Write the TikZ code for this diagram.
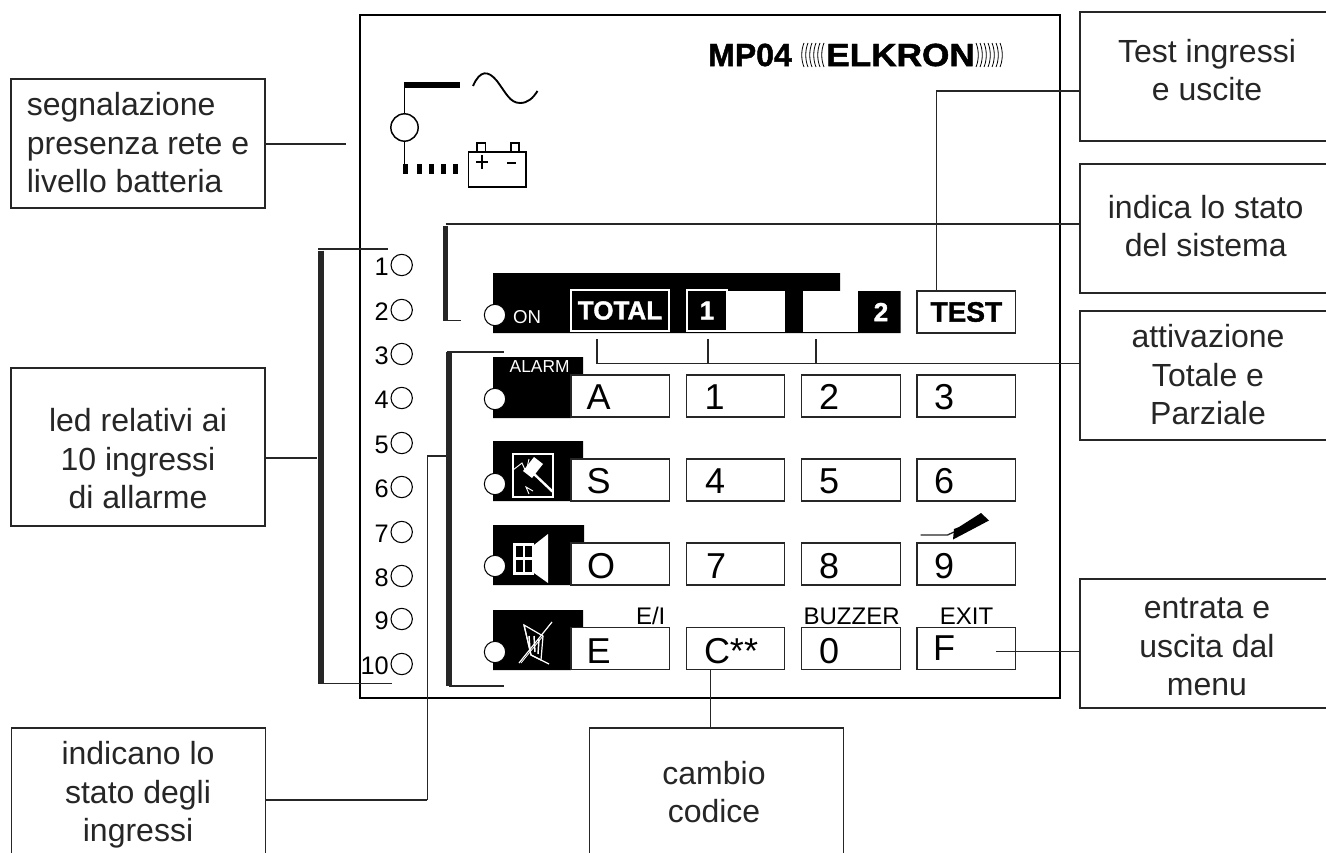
\documentclass[tikz,border=0pt]{standalone}
\usepackage{fontspec}
\setmainfont{Liberation Sans}
\newfontfamily\heavyfont[FakeBold=1.5]{Liberation Sans Bold}
\definecolor{inkline}{HTML}{262626}
\tikzset{
  notebox/.style={draw=inkline, line width=1.1pt, fill=white, minimum width=190.5pt, minimum height=96.75pt, inner sep=0pt},
  notetext/.style={text=inkline, align=center, inner sep=0pt, font=\fontsize{24}{28.9}\selectfont},
  keybox/.style={draw=inkline, line width=0.9pt, fill=white, minimum width=74pt, minimum height=31.5pt, inner sep=0pt},
  keytext/.style={inner sep=0pt, font=\fontsize{27}{27}\selectfont},
  headtext/.style={inner sep=0pt, font=\fontsize{18}{18}\selectfont},
  led/.style={circle, draw=black, line width=0.8pt, fill=white, minimum size=16pt, inner sep=0pt},
  lednum/.style={anchor=east, inner sep=0pt, font=\fontsize{19}{19}\selectfont},
  thinwire/.style={draw=inkline, line width=1pt},
  heavywire/.style={draw=inkline, line width=1.6pt},
  bracket/.style={draw=inkline, line width=3.9pt},
  whiteline/.style={draw=white, line width=0.9pt}
}
\begin{document}
\begin{tikzpicture}[x=0.75pt,y=-0.75pt]
\useasboundingbox (0,0) rectangle (1326,852);
% front panel
\node[draw=black, line width=1.5pt, minimum width=525pt, minimum height=512.25pt, inner sep=0pt] (panel) at (709.5,356.5) {};
% mains and battery symbol
\draw[line width=5pt] (404,85) -- (460,85);
\draw[line width=1.1pt] (404.5,85) -- (404.5,114);
\node[draw=black, line width=1.1pt, circle, minimum size=20.5pt, inner sep=0pt] (mainsled) at (404.5,127.5) {};
\draw[line width=1.1pt] (mainsled.south) -- (404.5,165);
\foreach \x in {405.5,419,431.5,443,455} {
    \fill (\x-2.5,164) rectangle (\x+2.5,174);
}
\draw[line width=1.4pt] (473,86) .. controls (480,70) and (488,70) .. (497,81) .. controls (506,93) and (510,103) .. (520,103) .. controls (528,103) and (533,98) .. (537.5,91);
\draw[line width=1.2pt] (468.5,152) rectangle (526,187);
\draw[line width=1.1pt] (477,143) rectangle (485.5,152);
\draw[line width=1.1pt] (511,143) rectangle (519,152);
\draw[line width=1.1pt] (476,162) -- (488,162);
\draw[line width=1.1pt] (482,155) -- (482,169);
\draw[line width=1.6pt] (507,163) -- (516,163);
% title
\node[inner sep=0pt, font=\fontsize{24}{24}\heavyfont] (modelname) at (750,55) {MP04};
\node[inner sep=0pt, xscale=1.1, font=\fontsize{24}{24}\heavyfont] (brandname) at (900.5,55) {ELKRON};
\foreach \x in {804,808,812,816,820,824} {
    \draw[line width=0.6pt] (\x,43) .. controls (\x-3,50) and (\x-3,60) .. (\x,67);
}
\foreach \x in {976,980,984,988,992,996,1000} {
    \draw[line width=0.6pt] (\x,43) .. controls (\x+3,50) and (\x+3,60) .. (\x,67);
}
% black bands behind the keys
\fill (493,273) -- (840,273) -- (840,291) -- (900.5,291) -- (900.5,333) -- (493,333) -- cycle;
\fill (493,357) -- (583,357) -- (583,376) -- (571,376) -- (571,418) -- (493,418) -- cycle;
\fill (493,441) -- (583,441) -- (583,460) -- (571,460) -- (571,501) -- (493,501) -- cycle;
\fill (493,525) -- (584,525) -- (584,544) -- (571,544) -- (571,585) -- (493,585) -- cycle;
\fill (493,610) -- (583,610) -- (583,628) -- (571,628) -- (571,670) -- (493,670) -- cycle;
% top row
\fill[white] (728,291) rectangle (785,332);
\fill[white] (803,291) rectangle (858,332);
\node[draw=white, line width=1.3pt, fill=black, text=white, minimum width=73.5pt, minimum height=31pt, inner sep=0pt, font=\fontsize{19.5}{19.5}\heavyfont] (keyTOTAL) at (620,310.5) {TOTAL};
\node[draw=white, line width=1.3pt, fill=black, text=white, minimum width=30.5pt, minimum height=31pt, inner sep=0pt, font=\fontsize{19.5}{19.5}\heavyfont] (keyone) at (707,310.5) {1};
\node[text=white, inner sep=0pt, font=\fontsize{19.5}{19.5}\heavyfont] (keytwo) at (881,312) {2};
\node[keybox, font=\fontsize{21}{21}\heavyfont] (keyTEST) at (966.3,312) {TEST};
\node[text=white, inner sep=0pt, font=\fontsize{14}{14}\selectfont] (ontext) at (527,317) {ON};
\node[text=white, inner sep=0pt, font=\fontsize{13}{13}\selectfont] (alarmtext) at (539.6,367) {ALARM};
% keypad
\foreach \name/\x/\y in {A/620.3/396,B/735.5/396,C/851/396,D/966.3/396,
                         E/620.3/480,F/735.5/480,G/851/480,H/966.3/480,
                         I/620.3/564,J/735.5/564,K/851/564,L/966.3/564,
                         M/620.3/648.5,N/735.5/648.5,O/851/648.5,P/966.3/648.5} {
    \node[keybox] (key\name) at (\x,\y) {};
}
\foreach \name/\x/\y/\txt in {A/598.7/397/A,B/714.6/397/1,C/829/397/2,D/944/397/3,
                              E/598.7/481/S,F/715/481/4,G/829/481/5,H/944/481/6,
                              I/601/566/O,J/716/566/7,K/829/566/8,L/944/566/9,
                              M/598.7/651/E,N/731/651/C**,O/829/651/0,P/944/648/F} {
    \node[keytext] (text\name) at (\x,\y) {\txt};
}
\node[headtext, anchor=east] (headEI) at (665.6,616) {E/I};
\node[headtext] (headBUZZER) at (851.6,616) {BUZZER};
\node[headtext] (headEXIT) at (966.6,616) {EXIT};
% status leds
\foreach \name/\y in {on/315,alarm/399,sabot/484,open/566,excl/652} {
    \node[led] (led\name) at (495,\y) {};
}
% input leds
\foreach \n/\y in {1/265,2/310,3/354,4/398,5/443,6/487,7/532,8/576,9/619,10/664} {
    \node[led] (in\n) at (401.7,\y) {};
    \node[lednum] (num\n) at (389,\y+2) {\n};
}
% hammer icon
\draw[whiteline, line width=1.2pt] (513,454) rectangle (553,497);
\draw[whiteline, line width=1.8pt] (533,473) -- (553,492);
\fill[white] (523,471) -- (534,457) -- (543,464) -- (532,478) -- cycle;
\draw[whiteline, line width=0.7pt] (513,470) -- (522,463) -- (526,472) -- (529,459);
\draw[whiteline, line width=0.7pt] (533,491) -- (526,487) -- (529,494);
% window and horn icon
\fill[white] (513,543) rectangle (534,575);
\fill (516,546) rectangle (522.5,557);
\fill (525,546) rectangle (531.5,557);
\fill (516,560) rectangle (522.5,572);
\fill (525,560) rectangle (531.5,572);
\fill[white] (534,545) -- (548,534) -- (548,583) -- (534,573) -- cycle;
% excluded icon
\draw[whiteline] (519,663) -- (552,622);
\draw[whiteline] (524,625) -- (543,636) -- (541,660) -- (531,655) -- cycle;
\draw[whiteline] (524,625) -- (531,655) -- (549,664);
\draw[whiteline, line width=1.1pt] (529,636) -- (530,650);
\draw[whiteline, line width=1.1pt] (534,636) -- (535,652);
\draw[whiteline, line width=1.1pt] (539,639) -- (538,654);
\draw[whiteline, line width=0.6pt] (521,663) -- (543,636);
% handset icon above key 9
\coordinate (hookstart) at (920.5,535);
\draw[thinwire] (hookstart) -- (947.5,535) -- (954,532);
\fill (953,539.5) -- (989,520.5) -- (981,513) -- (959,527) -- (954,529) -- cycle;
% note boxes
\node[notebox] (mainsbox) at (138,143.5) {};
\node[notebox, minimum height=118.5pt] (inputsbox) at (138,447) {};
\node[notebox] (statebox) at (138.5,792.5) {};
\node[notebox] (codebox) at (716.5,792.5) {};
\node[notebox] (testbox) at (1207,76.7) {};
\node[notebox] (systembox) at (1207,228.5) {};
\node[notebox] (armbox) at (1207,375.5) {};
\node[notebox] (menubox) at (1207,643.5) {};
\node[notetext, align=left] (mainstext) at (138,143) {segnalazione\\presenza rete e\\livello batteria};
\node[notetext] (inputstext) at (138,459) {led relativi ai\\10 ingressi\\di allarme};
\node[notetext] (statetext) at (138,795) {indicano lo\\stato degli\\ingressi};
\node[notetext] (codetext) at (714,792) {cambio\\codice};
\node[notetext] (testtext) at (1207,70) {Test ingressi\\e uscite};
\node[notetext] (systemtext) at (1205.7,226) {indica lo stato\\del sistema};
\node[notetext] (armtext) at (1208,375) {attivazione\\Totale e\\Parziale};
\node[notetext] (menutext) at (1207,647) {entrata e\\uscita dal\\menu};
% brackets
\coordinate (systemtop) at (445.6,224);
\coordinate (systemlow) at (445.6,320.7);
\coordinate (systemend) at (461,320.7);
\draw[bracket] (445.6,226) -- (systemlow);
\draw[thinwire] (systemlow) -- (systemend);
\draw[thinwire] (systemtop) -- (systemtop -| systembox.west);
\coordinate (statetop) at (449,352);
\coordinate (statelow) at (449,686);
\coordinate (statejoin) at (449,456);
\coordinate (stateturn) at (427.3,456);
\coordinate (statefoot) at (427.3,800);
\draw[bracket] (statetop) -- (statelow);
\draw[thinwire] (447,352) -- (504,352);
\draw[thinwire] (statelow) -- (504,686);
\draw[thinwire] (statejoin) -- (stateturn) -- (statefoot);
\draw[heavywire] (statefoot) -- (statefoot -| statebox.east);
\coordinate (inputtop) at (321,250.7);
\coordinate (inputlow) at (321,684);
\coordinate (inputjoin) at (317,458);
\draw[bracket] (inputtop) -- (inputlow);
\draw[thinwire] (318,249) -- (387.7,249);
\draw[thinwire] (318,683.7) -- (391.7,683.7);
\draw[heavywire] (inputjoin) -- (inputjoin -| inputsbox.east);
% connectors
\coordinate (mainsend) at (346,144);
\draw[heavywire] (mainsbox.east |- mainsend) -- (mainsend);
\coordinate (testjoin) at (936.3,90.7);
\draw[heavywire] (testbox.west |- testjoin) -- (testjoin);
\draw[thinwire] (testjoin) -- (testjoin |- keyTEST.north);
\coordinate (armjoin) at (597,363.7);
\coordinate (armtotal) at (597,339);
\coordinate (armone) at (708,339);
\coordinate (armtwo) at (816,339);
\draw[thinwire] (armtotal) -- (armjoin) -- (armjoin -| armbox.west);
\draw[thinwire] (armone) -- (armone |- armjoin);
\draw[thinwire] (armtwo) -- (armtwo |- armjoin);
\coordinate (menustart) at (996,651.7);
\draw[thinwire] (menustart) -- (menustart -| menubox.west);
\coordinate (codestart) at (710.7,670);
\draw[thinwire] (codestart) -- (codestart |- codebox.north);
\end{tikzpicture}
\end{document}
